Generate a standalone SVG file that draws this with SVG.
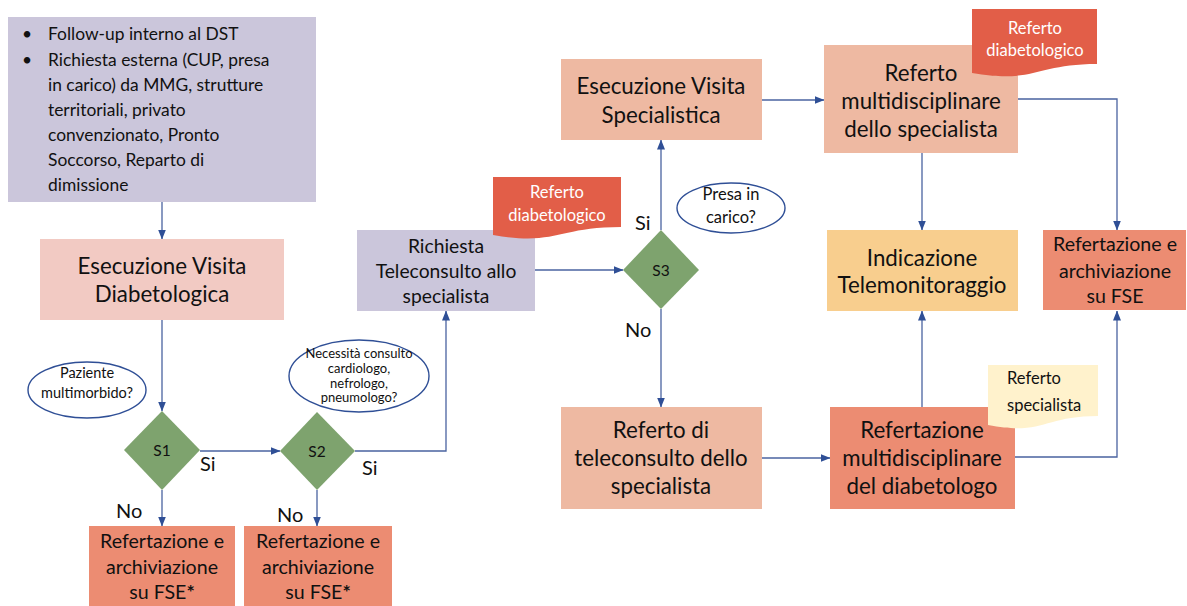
<svg xmlns="http://www.w3.org/2000/svg" width="1187" height="606" viewBox="0 0 1187 606">
<defs>
<marker id="arr" markerUnits="userSpaceOnUse" markerWidth="10" markerHeight="10" viewBox="0 0 10 10" refX="9.5" refY="5" orient="auto">
<path d="M0,1 L10,5 L0,9 Z" fill="#2F4F96"/>
</marker>
<style>
text{font-family:"Lato","Liberation Sans",sans-serif;fill:#111;}
.c{text-anchor:middle;}
.big{font-size:22.3px;}
.mid{font-size:19.6px;}
.lbl{font-size:20px;}
.lav{fill:#CBC6DB;}
.pink{fill:#F2CAC3;}
.peach{fill:#EEB9A2;}
.salmon{fill:#EC8C72;}
.orange{fill:#F8CE8E;}
.dia{fill:#7EA36E;}
.ell{fill:#fff;stroke:#2F4F96;stroke-width:1.4;}
.con{fill:none;stroke:#4A63A0;stroke-width:1.3;marker-end:url(#arr);}
.docr{fill:#E25E48;}
.docy{fill:#FFF2CC;}
.w{fill:#fff;}
</style>
</defs>

<g id="connectors">
<path class="con" d="M162,202 V239"/>
<path class="con" d="M162,320 V411"/>
<path class="con" d="M200,451 H280"/>
<path class="con" d="M162,490 V526"/>
<path class="con" d="M317,490 V526"/>
<path class="con" d="M355,451 H446 V311"/>
<path class="con" d="M535,270 H623"/>
<path class="con" d="M661,230 V140"/>
<path class="con" d="M661,309 V407"/>
<path class="con" d="M762,100 H824"/>
<path class="con" d="M1018,99 H1117 V230"/>
<path class="con" d="M922,153 V230"/>
<path class="con" d="M762,458 H830"/>
<path class="con" d="M922,407 V311"/>
<path class="con" d="M1015,457 H1117 V311"/>
</g>

<g id="start">
<rect class="lav" x="8" y="17" width="308" height="185"/>
<g style="font-size:17.4px">
<text x="22" y="40">•</text><text x="48" y="40">Follow-up interno al DST</text>
<text x="22" y="66">•</text><text x="48" y="66">Richiesta esterna (CUP, presa</text>
<text x="48" y="91">in carico) da MMG, strutture</text>
<text x="48" y="116">territoriali, privato</text>
<text x="48" y="141">convenzionato, Pronto</text>
<text x="48" y="166">Soccorso, Reparto di</text>
<text x="48" y="191">dimissione</text>
</g>
</g>

<g id="visita-diab">
<rect class="pink" x="40" y="239" width="244" height="81"/>
<text class="c big" x="162" y="274">Esecuzione Visita</text>
<text class="c big" x="162" y="302">Diabetologica</text>
</g>

<g id="q1">
<ellipse class="ell" cx="87" cy="390" rx="59" ry="28"/>
<text class="c" style="font-size:14.5px" x="87" y="378">Paziente</text>
<text class="c" style="font-size:14.5px" x="87" y="398">multimorbido?</text>
</g>

<g id="s1">
<path class="dia" d="M162,411 L200,450 L162,490 L124,450 Z"/>
<text class="c" style="font-size:15.5px" x="162" y="456">S1</text>
</g>

<g id="s2">
<path class="dia" d="M317,412 L355,451 L317,490 L280,451 Z"/>
<text class="c" style="font-size:15.5px" x="317" y="457">S2</text>
</g>

<g id="q2">
<ellipse class="ell" cx="359" cy="376" rx="70" ry="36"/>
<text class="c" style="font-size:13px" x="359" y="358">Necessità consulto</text>
<text class="c" style="font-size:13px" x="359" y="373">cardiologo,</text>
<text class="c" style="font-size:13px" x="359" y="388">nefrologo,</text>
<text class="c" style="font-size:13px" x="359" y="402">pneumologo?</text>
</g>

<g id="labels">
<text class="lbl" x="200" y="471">Si</text>
<text class="lbl" x="362" y="475">Si</text>
<text class="lbl" x="116" y="518">No</text>
<text class="lbl" x="277" y="522">No</text>
<text class="lbl" x="635" y="230">Si</text>
<text class="lbl" x="625" y="337">No</text>
</g>

<g id="fse1">
<rect class="salmon" x="89" y="526" width="146" height="80"/>
<text class="c mid" x="162" y="548">Refertazione e</text>
<text class="c mid" x="162" y="574">archiviazione</text>
<text class="c mid" x="162" y="599">su FSE<tspan font-weight="bold">*</tspan></text>
</g>

<g id="fse2">
<rect class="salmon" x="244" y="526" width="148" height="80"/>
<text class="c mid" x="318" y="548">Refertazione e</text>
<text class="c mid" x="318" y="574">archiviazione</text>
<text class="c mid" x="318" y="599">su FSE<tspan font-weight="bold">*</tspan></text>
</g>

<g id="richiesta">
<rect class="lav" x="357" y="230" width="178" height="81"/>
<text class="c" style="font-size:19.3px" x="446" y="253">Richiesta</text>
<text class="c" style="font-size:19.3px" x="446" y="278">Teleconsulto allo</text>
<text class="c" style="font-size:19.3px" x="446" y="303">specialista</text>
</g>

<g id="doc1">
<path class="docr" d="M493,177 H621 V227 C557,227 557,246 493,235 Z"/>
<text class="c w" style="font-size:16.5px" x="557" y="198">Referto</text>
<text class="c w" style="font-size:16.5px" x="557" y="221">diabetologico</text>
</g>

<g id="s3">
<path class="dia" d="M661,230 L699,270 L661,309 L623,270 Z"/>
<text class="c" style="font-size:15.5px" x="661" y="276">S3</text>
</g>

<g id="q3">
<ellipse class="ell" cx="731" cy="208" rx="54" ry="25"/>
<text class="c" style="font-size:16.5px" x="731" y="200">Presa in</text>
<text class="c" style="font-size:16.5px" x="731" y="223">carico?</text>
</g>

<g id="visita-spec">
<rect class="peach" x="561" y="59" width="201" height="81"/>
<text class="c big" x="661" y="94">Esecuzione Visita</text>
<text class="c big" x="661" y="123">Specialistica</text>
</g>

<g id="referto-tele">
<rect class="peach" x="561" y="407" width="201" height="102"/>
<text class="c big" x="661" y="438">Referto di</text>
<text class="c big" x="661" y="466">teleconsulto dello</text>
<text class="c big" x="661" y="494">specialista</text>
</g>

<g id="referto-multi">
<rect class="peach" x="824" y="45" width="194" height="108"/>
<text class="c big" x="921" y="81">Referto</text>
<text class="c big" x="921" y="109">multidisciplinare</text>
<text class="c big" x="921" y="137">dello specialista</text>
</g>

<g id="doc2">
<path class="docr" d="M972,9 H1097 V64 C1035,64 1035,84 972,73 Z"/>
<text class="c w" style="font-size:16.5px" x="1035" y="34">Referto</text>
<text class="c w" style="font-size:16.5px" x="1035" y="56">diabetologico</text>
</g>

<g id="telemonitoraggio">
<rect class="orange" x="827" y="230" width="191" height="81"/>
<text class="c big" x="922" y="266">Indicazione</text>
<text class="c big" x="922" y="293">Telemonitoraggio</text>
</g>

<g id="fse3">
<rect class="salmon" x="1043" y="230" width="143" height="80"/>
<text class="c mid" x="1115" y="251">Refertazione e</text>
<text class="c mid" x="1115" y="278">archiviazione</text>
<text class="c mid" x="1115" y="303">su FSE</text>
</g>

<g id="refertazione-multi">
<rect class="salmon" x="830" y="407" width="185" height="102"/>
<text class="c big" x="922" y="438">Refertazione</text>
<text class="c big" x="922" y="466">multidisciplinare</text>
<text class="c big" x="922" y="494">del diabetologo</text>
</g>

<g id="doc3">
<path class="docy" d="M988,365 H1098 V416 C1043,416 1043,436 988,425 Z"/>
<text style="font-size:16.5px" x="1007" y="384">Referto</text>
<text style="font-size:16.5px" x="1007" y="411">specialista</text>
</g>
</svg>
